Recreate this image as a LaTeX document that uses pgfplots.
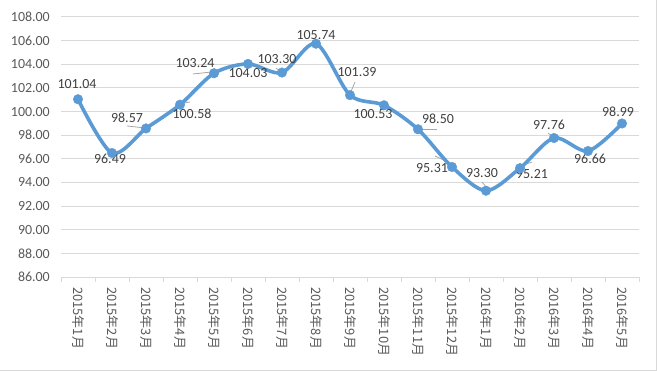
\documentclass[border=0pt]{standalone}
\usepackage{fontspec}
\setmainfont{Carlito}
\newfontfamily\cjk{Noto Sans CJK SC}
\usepackage{pgfplots}
\pgfplotsset{compat=1.18}
\definecolor{lineblue}{HTML}{5B9BD5}
\definecolor{gridgray}{HTML}{D9D9D9}
\definecolor{ticktext}{HTML}{595959}
\definecolor{labeltext}{HTML}{404040}
\definecolor{leader}{HTML}{A6A6A6}
\tikzset{lbl/.style={font=\fontsize{14}{16}\selectfont, color=labeltext, inner sep=0pt, anchor=center}}
\begin{document}
\begin{tikzpicture}
\path[use as bounding box] (0,0) rectangle (657bp,371bp);
\draw[gridgray, line width=1bp] (656.5bp,371bp) -- (656.5bp,0.5bp) -- (0,0.5bp);
\begin{axis}[
  at={(61bp,94bp)}, anchor=south west,
  scale only axis, width=578bp, height=260bp,
  xmin=-0.5, xmax=16.5, ymin=86, ymax=108,
  ytick={86,88,...,108},
  xtick={0,...,16},
  xticklabels={2015年1月,2015年2月,2015年3月,2015年4月,2015年5月,2015年6月,2015年7月,2015年8月,2015年9月,2015年10月,2015年11月,2015年12月,2016年1月,2016年2月,2016年3月,2016年4月,2016年5月},
  minor xtick={-0.5,0.5,...,16.5},
  xtick pos=left,
  tick align=outside,
  major tick length=0pt,
  minor tick length=5bp,
  minor x tick style={gridgray, line width=1bp},
  ytick style={draw=none},
  axis line style={draw=none},
  ymajorgrids, grid style={gridgray, line width=1bp},
  /pgf/number format/assume math mode=true,
  /pgf/number format/fixed, /pgf/number format/fixed zerofill, /pgf/number format/precision=2,
  yticklabel style={font=\fontsize{14}{16}\selectfont, color=ticktext, anchor=east, inner sep=0pt, xshift=-11bp},
  xticklabel style={font=\cjk\fontsize{13}{15}\selectfont, color=ticktext, rotate=-90, anchor=west, inner sep=0pt},
  xticklabel shift=10bp,
  clip=false,
]
% leader lines
\draw[leader, line width=0.8bp] (axis cs:1.441,98.78) -- (axis cs:1.971,98.61);
\draw[leader, line width=0.8bp] (axis cs:3.382,103.18) -- (axis cs:3.941,103.35);
\draw[leader, line width=0.8bp] (axis cs:2.971,100.64) -- (axis cs:3.294,100.81);
\draw[leader, line width=0.8bp] (axis cs:5.824,103.68) -- (axis cs:5.971,103.35);
\draw[leader, line width=0.8bp] (axis cs:8.0,101.49) -- (axis cs:8.147,102.50);
\draw[leader, line width=0.8bp] (axis cs:8.676,100.81) -- (axis cs:8.971,100.64);
\draw[leader, line width=0.8bp] (axis cs:9.971,98.52) -- (axis cs:10.559,98.52);
\draw[leader, line width=0.8bp] (axis cs:10.5,96.24) -- (axis cs:10.941,95.65);
\draw[leader, line width=0.8bp] (axis cs:11.882,94.04) -- (axis cs:12.0,93.62);
\draw[leader, line width=0.8bp] (axis cs:13.0,95.39) -- (axis cs:13.353,95.73);
\draw[leader, line width=0.8bp] (axis cs:13.824,98.18) -- (axis cs:13.971,97.85);
\addplot[smooth, tension=0.5, color=lineblue, line width=3.6bp,
  mark=*, mark size=4.8bp, mark options={solid, fill=lineblue, draw=lineblue, line width=0.4bp}]
coordinates {
(0,101.04) (1,96.49) (2,98.57) (3,100.58) (4,103.24) (5,104.03) (6,103.30) (7,105.74)
(8,101.39) (9,100.53) (10,98.50) (11,95.31) (12,93.30) (13,95.21) (14,97.76) (15,96.66) (16,98.99)
};
\node[lbl, xshift=-1bp, yshift=15bp] at (axis cs:0,101.04) {101.04};
\node[lbl, xshift=-2bp, yshift=-6bp] at (axis cs:1,96.49) {96.49};
\node[lbl, xshift=-19bp, yshift=11bp] at (axis cs:2,98.57) {98.57};
\node[lbl, xshift=12bp, yshift=-9bp] at (axis cs:3,100.58) {100.58};
\node[lbl, xshift=-19bp, yshift=10bp] at (axis cs:4,103.24) {103.24};
\node[lbl, xshift=0bp, yshift=-9bp] at (axis cs:5,104.03) {104.03};
\node[lbl, xshift=-5bp, yshift=14bp] at (axis cs:6,103.30) {103.30};
\node[lbl, xshift=0bp, yshift=9bp] at (axis cs:7,105.74) {105.74};
\node[lbl, xshift=7bp, yshift=23bp] at (axis cs:8,101.39) {101.39};
\node[lbl, xshift=-11bp, yshift=-9bp] at (axis cs:9,100.53) {100.53};
\node[lbl, xshift=20bp, yshift=10bp] at (axis cs:10,98.50) {98.50};
\node[lbl, xshift=-20bp, yshift=-1bp] at (axis cs:11,95.31) {95.31};
\node[lbl, xshift=-4bp, yshift=18bp] at (axis cs:12,93.30) {93.30};
\node[lbl, xshift=12bp, yshift=-6bp] at (axis cs:13,95.21) {95.21};
\node[lbl, xshift=-5bp, yshift=13bp] at (axis cs:14,97.76) {97.76};
\node[lbl, xshift=2bp, yshift=-8bp] at (axis cs:15,96.66) {96.66};
\node[lbl, xshift=-4bp, yshift=12bp] at (axis cs:16,98.99) {98.99};
\end{axis}
\end{tikzpicture}
\end{document}
